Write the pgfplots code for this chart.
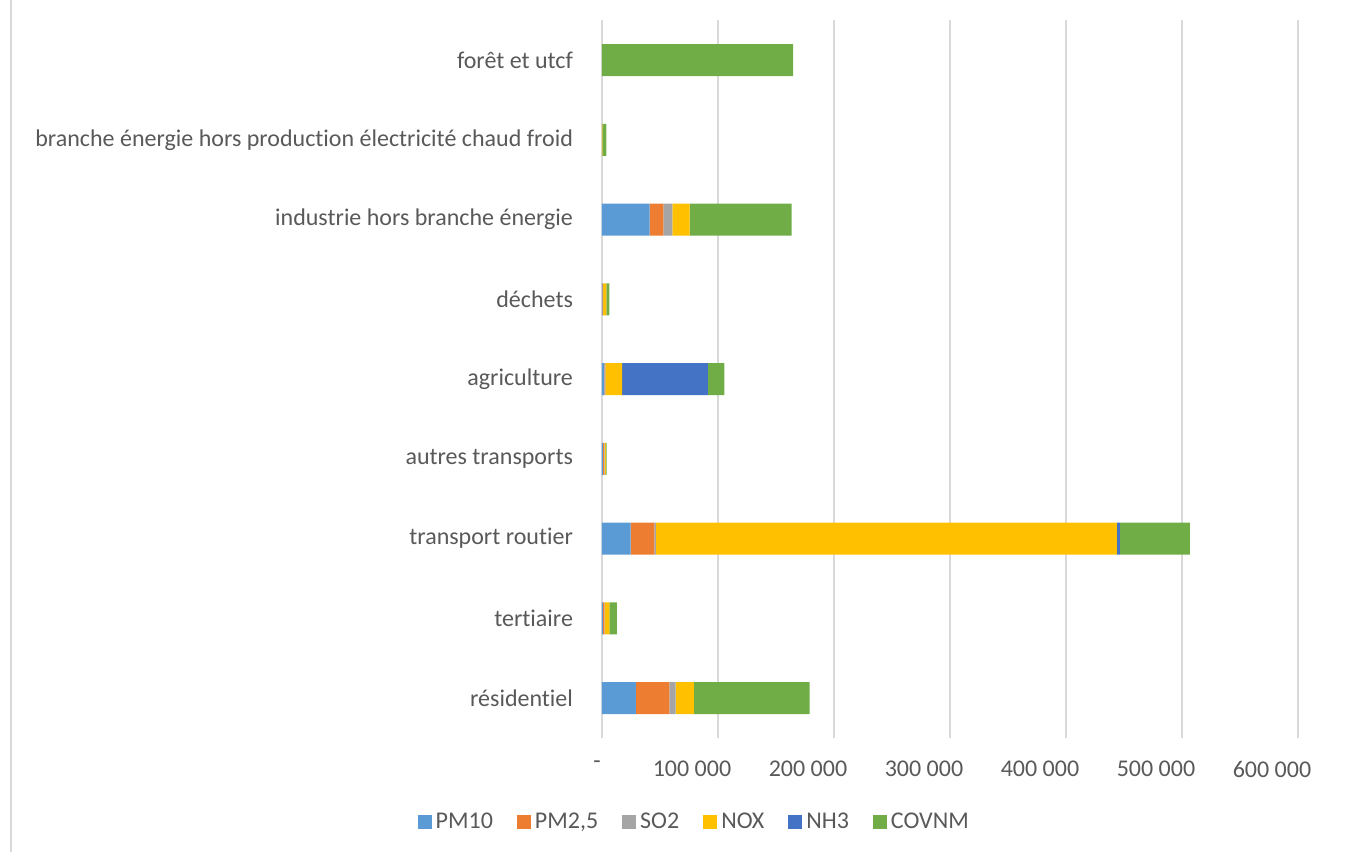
\documentclass[border=0pt]{standalone}
\usepackage{pgfplots}
\pgfplotsset{compat=1.18}
\usepackage{fontspec}
\setmainfont{Carlito}[Ligatures=NoCommon]

\definecolor{txt}{HTML}{595959}
\definecolor{gridc}{HTML}{D9D9D9}
\definecolor{cPM10}{HTML}{5B9BD5}
\definecolor{cPM25}{HTML}{ED7D31}
\definecolor{cSO2}{HTML}{A5A5A5}
\definecolor{cNOX}{HTML}{FFC000}
\definecolor{cNH3}{HTML}{4472C4}
\definecolor{cCOV}{HTML}{70AD47}

\newcommand{\pad}[1]{#1\rule{26pt}{0pt}}

\begin{document}
\begin{tikzpicture}
\useasboundingbox (0,0) rectangle (681pt,426pt);
% thin frame edge at the left
\draw[gridc, line width=0.8pt] (5.5pt,0) -- (5.5pt,426pt);

\begin{axis}[
    at={(301pt,57pt)}, anchor=south west,
    scale only axis,
    width=348pt, height=358.875pt,
    xbar stacked,
    bar width=16pt,
    xmin=0, xmax=600000,
    ymin=-0.5, ymax=8.5,
    scaled x ticks=false,
    xtick={0,100000,200000,300000,400000,500000,600000},
    xticklabels={{-\rule{5pt}{0pt}},\pad{100 000},\pad{200 000},\pad{300 000},\pad{400 000},\pad{500 000},\pad{600 000}},
    ytick={0,...,8},
    yticklabels={résidentiel,tertiaire,transport routier,autres transports,agriculture,déchets,industrie hors branche énergie,branche énergie hors production électricité chaud froid,forêt et utcf},
    xmajorgrids,
    grid style={gridc, line width=0.8pt},
    axis line style={draw=none},
    major tick length=0pt,
    tick label style={font=\fontsize{12}{14}\selectfont, text=txt},
    yticklabel style={xshift=-11pt},
    xticklabel style={yshift=-8pt},
    legend columns=6,
    legend style={at={(0.134,-0.117)}, anchor=center, draw=none, fill=none,
        font=\fontsize{12}{14}\selectfont, text=txt,
        /tikz/every even column/.append style={column sep=10pt}},
    legend image code/.code={\fill[#1] (0pt,-3.5pt) rectangle (7pt,3.5pt);},
]
% order: résidentiel, tertiaire, transport routier, autres transports, agriculture, déchets, industrie, branche énergie, forêt
\addplot[fill=cPM10, draw=none] coordinates {
    (29300,0) (800,1) (24600,2) (800,3) (2000,4) (300,5) (41100,6) (0,7) (0,8)};
\addlegendentry{PM10}
\addplot[fill=cPM25, draw=none] coordinates {
    (28700,0) (1300,1) (20500,2) (900,3) (700,4) (500,5) (11800,6) (0,7) (0,8)};
\addlegendentry{PM2,5}
\addplot[fill=cSO2, draw=none] coordinates {
    (5500,0) (200,1) (1400,2) (600,3) (200,4) (100,5) (7800,6) (0,7) (0,8)};
\addlegendentry{SO2}
\addplot[fill=cNOX, draw=none] coordinates {
    (15800,0) (4000,1) (397300,2) (1000,3) (14400,4) (2800,5) (14900,6) (300,7) (0,8)};
\addlegendentry{NOX}
\addplot[fill=cNH3, draw=none] coordinates {
    (0,0) (0,1) (2700,2) (0,3) (73900,4) (100,5) (0,6) (0,7) (0,8)};
\addlegendentry{NH3}
\addplot[fill=cCOV, draw=none] coordinates {
    (99700,0) (6600,1) (60400,2) (700,3) (14400,4) (2500,5) (87900,6) (3500,7) (164700,8)};
\addlegendentry{COVNM}
\end{axis}
\end{tikzpicture}
\end{document}
